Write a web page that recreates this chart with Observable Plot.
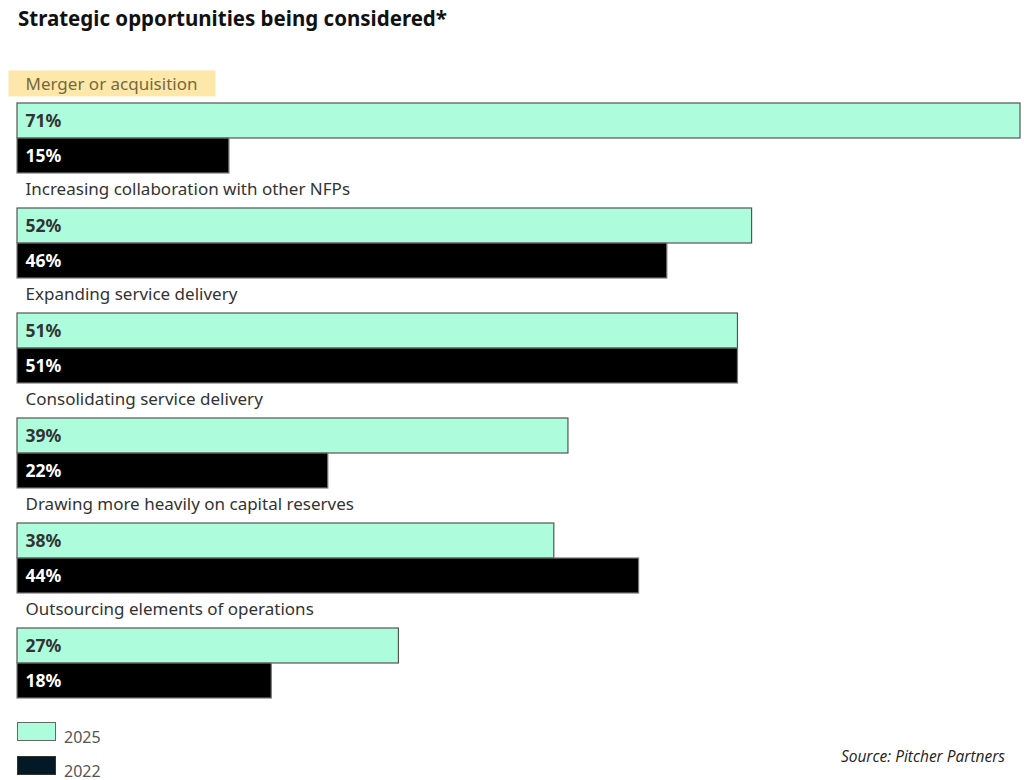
<!DOCTYPE html>
<html>
<head>
<meta charset="utf-8">
<script src="https://cdn.jsdelivr.net/npm/d3@7"></script>
<script src="https://cdn.jsdelivr.net/npm/@observablehq/plot@0.6"></script>
<style>
  html, body { margin: 0; padding: 0; background: #fff; }
  body { width: 1024px; height: 780px; position: relative; overflow: hidden; font-family: "Noto Sans", sans-serif; }
  #title { position: absolute; left: 18px; top: 4px; font-size: 20.5px; font-weight: 700; color: #111; }
  #chart { position: absolute; left: 0; top: 0; }
  #legend { position: absolute; left: 17px; top: 722px; font-size: 16px; color: #555; line-height: 18px; }
  .lg { display: flex; align-items: flex-start; height: 20px; margin-bottom: 14px; }
  .sw { width: 39px; height: 19px; box-sizing: border-box; border: 1.5px solid #666; margin-right: 8px; }
  .lg span { margin-top: 6px; }
  #source { position: absolute; right: 19px; top: 745px; font-family: "Open Sans", sans-serif; font-style: italic; font-size: 15.5px; color: #222; }
</style>
</head>
<body>
<div id="title">Strategic opportunities being considered*</div>
<div id="chart"></div>
<div id="legend">
  <div class="lg"><div class="sw" style="background:#adfcdb"></div><span>2025</span></div>
  <div class="lg"><div class="sw" style="background:#031a26;border-color:#333"></div><span>2022</span></div>
</div>
<div id="source">Source: Pitcher Partners</div>
<script>
const categories = [
  "Merger or acquisition",
  "Increasing collaboration with other NFPs",
  "Expanding service delivery",
  "Consolidating service delivery",
  "Drawing more heavily on capital reserves",
  "Outsourcing elements of operations"
];
const values2025 = [71, 52, 51, 39, 38, 27];
const values2022 = [15, 46, 51, 22, 44, 18];
const years = ["2025", "2022"];
const highlighted = "Merger or acquisition";

const rows = [];
const bars = [];
const labels = [];
categories.forEach((c, i) => {
  rows.push(c + "|label", c + "|2025", c + "|2022");
  labels.push({category: c, key: c + "|label"});
  bars.push({category: c, year: "2025", value: values2025[i], key: c + "|2025"});
  bars.push({category: c, year: "2022", value: values2022[i], key: c + "|2022"});
});

const chart = Plot.plot({
  width: 1024,
  height: 701,
  marginTop: 65,
  marginBottom: 0,
  marginLeft: 17,
  marginRight: 4,
  x: {domain: [0, 71], axis: null},
  y: {domain: rows, axis: null, padding: 0},
  style: {fontFamily: "Noto Sans, sans-serif", background: "transparent"},
  marks: [
    Plot.barX(bars, {
      x: "value", y: "key",
      fill: d => d.year === "2025" ? "#adfcdb" : "#000000",
      stroke: d => d.year === "2025" ? "#555555" : "#777777",
      strokeWidth: 1.2
    }),
    Plot.text(bars, {
      x: 0, y: "key", text: d => d.value + "%",
      textAnchor: "start", dx: 8, dy: 0,
      fontSize: 17.5, fontWeight: 700,
      fill: d => d.year === "2025" ? "#333333" : "#ffffff"
    }),
    Plot.text(labels, {
      x: 0, y: "key", text: "category",
      textAnchor: "start", dx: 8, dy: -1,
      fontSize: 17,
      fill: d => d.category === highlighted ? "#76683f" : "#333333",
      className: "catlabel"
    })
  ]
});
document.getElementById("chart").appendChild(chart);

// highlight background behind the highlighted category label, sized from the text's own box
const texts = chart.querySelectorAll(".catlabel text");
texts.forEach(t => {
  if (t.textContent === highlighted) {
    const bb = t.getBBox();
    const ctm = t.getCTM();
    const r = document.createElementNS("http://www.w3.org/2000/svg", "rect");
    const tx = ctm ? ctm.e : 0, ty = ctm ? ctm.f : 0;
    r.setAttribute("x", bb.x + tx - 17);
    r.setAttribute("y", bb.y + ty - 2);
    r.setAttribute("width", bb.width + 35);
    r.setAttribute("height", bb.height + 3);
    r.setAttribute("fill", "#fde8a9");
    chart.insertBefore(r, chart.firstChild.nextSibling);
  }
});
</script>
</body>
</html>
